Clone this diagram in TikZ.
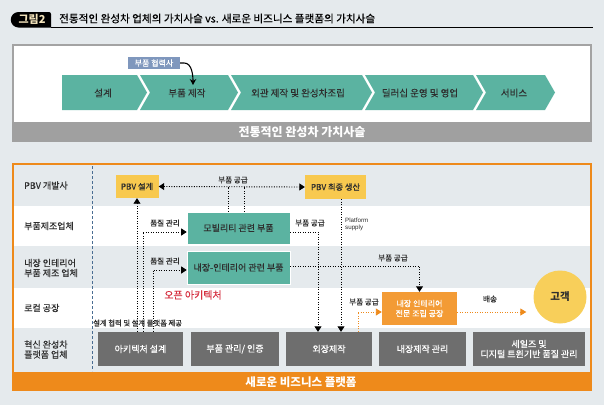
\documentclass[tikz,border=0pt]{standalone}
\usepackage{fontspec}
\setmainfont{Noto Sans CJK KR}
\newfontfamily\med{Noto Sans CJK KR}[FakeBold=0.35]
\newfontfamily\latinsans{Liberation Sans}
\usetikzlibrary{arrows.meta,calc}
\definecolor{bgc}{HTML}{E5EAED}
\definecolor{teal}{HTML}{5BB3A1}
\definecolor{boxgray}{HTML}{A3A3A3}
\definecolor{bandgray}{HTML}{A0A0A0}
\definecolor{bluebox}{HTML}{7F97BD}
\definecolor{orng}{HTML}{EE8A1B}
\definecolor{obox}{HTML}{F39B35}
\definecolor{ylw}{HTML}{F8C94F}
\definecolor{dgray}{HTML}{6E6E6E}
\definecolor{redt}{HTML}{D63040}
\definecolor{dashblue}{HTML}{4A6D92}
\definecolor{custc}{HTML}{F8CF5A}
\definecolor{txt}{HTML}{2E2E2E}
\definecolor{gold}{HTML}{F3E4BC}
\newcommand{\fsz}[1]{\fontsize{#1pt}{#1pt}\selectfont}
\begin{document}
\begin{tikzpicture}[x=1pt,y=-1pt,
  rowlab/.style={anchor=west,inner sep=0,text=txt,font=\med\fsz{9},align=left},
  smlab/.style={inner sep=0,text=txt,font=\med\fsz{7.6}},
  chevtxt/.style={inner sep=0,text=txt,font=\med\fsz{9.5}},
  ybox/.style={fill=ylw,inner sep=0,text=txt,font=\med\fsz{8.2}},
  tbox/.style={fill=teal,draw=white,line width=0.6pt,inner sep=0,text=txt,font=\med\fsz{9}},
  orbox/.style={fill=obox,inner sep=0,text=white,font=\med\fsz{8},align=center},
  gbox/.style={fill=dgray,inner sep=0,text=white,font=\med\fsz{9},align=center,minimum height=34},
  dots/.style={line width=0.9pt,dash pattern=on 0.9pt off 1.6pt},
  odots/.style={dots,draw=orng},
  tri/.style={-{Triangle[width=7pt,length=5.5pt]}},
  otri/.style={-{Triangle[width=7pt,length=6pt,fill=orng,color=orng]}},
  bitri/.style={{Triangle[width=7pt,length=5.5pt]}-{Triangle[width=7pt,length=5.5pt]}}
]
\useasboundingbox (0,0) rectangle (604,405);
\fill[bgc] (0,0) rectangle (604,405);

% ---------- title ----------
\fill[black] (18.5,12) -- (49,12) to[out=0,in=90] (51,14) -- (51,27.5) -- (18.5,27.5) arc[start angle=90,end angle=270,radius=7.75] -- cycle;
\node[inner sep=0,text=gold,font=\bfseries\fsz{11}] (tab) at (32,19.5) {그림2};
\draw[black,line width=0.8pt] (51,27.6) -- (593,27.6);
\node[anchor=west,inner sep=0,text=black,font=\med\fsz{10.6}] (title) at (59,18.5) {전통적인 완성차 업체의 가치사슬 vs. 새로운 비즈니스 플랫폼의 가치사슬};

% ---------- top box ----------
\fill[white] (12,44) rectangle (592,122);
\draw[boxgray,line width=2pt] (13,45) rectangle (591,141);
\fill[bandgray] (12,122) rectangle (592,142);
\node[inner sep=0,text=white,font=\bfseries\fsz{12}] (oldband) at (302,132) {전통적인 완성차 가치사슬};

\fill[teal] (62,75) -- (137,75) -- (147,92.5) -- (137,110) -- (62,110) -- cycle;
\fill[teal] (140,75) -- (228,75) -- (238,92.5) -- (228,110) -- (140,110) -- (150,92.5) -- cycle;
\fill[teal] (231,75) -- (362,75) -- (372,92.5) -- (362,110) -- (231,110) -- (241,92.5) -- cycle;
\fill[teal] (365,75) -- (473,75) -- (483,92.5) -- (473,110) -- (365,110) -- (375,92.5) -- cycle;
\fill[teal] (476,75) -- (545,75) -- (555,92.5) -- (545,110) -- (476,110) -- (486,92.5) -- cycle;
\node[chevtxt] (c1) at (103,93) {설계};
\node[chevtxt] (c2) at (187,93) {부품 제작};
\node[chevtxt] (c3) at (298,93) {외관 제작 및 완성차조립};
\node[chevtxt] (c4) at (420,93) {딜러십 운영 및 영업};
\node[chevtxt] (c5) at (514,93) {서비스};

\node[fill=bluebox,inner sep=0,minimum width=52,minimum height=12.5,text=white,font=\med\fsz{8}] (sup) at (154,63) {부품 협력사};
\coordinate (c2in) at (193,85);
\draw[line width=1.1pt,-{Stealth[length=6pt,width=6.5pt]}] (sup.east) -- ++(4,0) .. controls +(8,0) and +(0,-9) .. (c2in);

% ---------- lower section ----------
\fill[white] (14,206) rectangle (590,246);
\fill[white] (14,288) rectangle (590,328);
\fill[orng] (12,372) rectangle (592,391);
\draw[orng,line width=2.4pt] (13.2,164.2) rectangle (590.8,390);
\node[inner sep=0,text=white,font=\bfseries\fsz{11.5}] (newband) at (301,382) {새로운 비즈니스 플랫폼};
\draw[dashblue,line width=0.7pt,dash pattern=on 3pt off 2pt] (92,166) -- (92,371);

\node[rowlab] (r1) at (24,185.5) {PBV 개발사};
\node[rowlab] (r2) at (24,226) {부품제조업체};
\node[rowlab] (r3) at (24,268) {내장 인테리어\\[1pt]부품 제조 업체};
\node[rowlab] (r4) at (24,308) {로컬 공장};
\node[rowlab] (r5) at (24,349.5) {혁신 완성차\\[1pt]플랫폼 업체};

\node[ybox,minimum width=43,minimum height=23] (pbvd) at (137,186.5) {PBV 설계};
\node[ybox,minimum width=61,minimum height=24] (pbvp) at (335.5,187) {PBV 최종 생산};
\node[tbox,minimum width=103,minimum height=32] (mob) at (238.5,228) {모빌리티 관련 부품};
\node[tbox,minimum width=103,minimum height=33] (intr) at (238.5,267.5) {내장-인테리어 관련 부품};
\node[orbox,minimum width=75,minimum height=33] (asm) at (419.5,308.5) {내장 인테리어\\[2pt]전문 조립 공장};
\node[circle,fill=custc,minimum size=53,inner sep=0,text=txt,font=\bfseries\fsz{10.5}] (cust) at (560,297) {고객};

\node[gbox,minimum width=85] (b1) at (140.5,349) {아키텍처 설계};
\node[gbox,minimum width=88] (b2) at (235,349) {부품 관리/ 인증};
\node[gbox,minimum width=86] (b3) at (329,349) {외장제작};
\node[gbox,minimum width=87] (b4) at (422.5,349) {내장제작 관리};
\node[gbox,minimum width=112] (b5) at (529,349) {세일즈 및\\[1pt]디지털 트윈기반 품질 관리};

% connectors
\draw[dots,bitri] (pbvd.east) -- (pbvp.west);
\draw[dots] ($(mob.north)+(-10.5,0)$) -- ($(mob.north |- pbvd.east)+(-10.5,0)$);
\draw[dots] ($(mob.north)+(5.5,0)$) -- ($(mob.north |- pbvd.east)+(5.5,0)$);
\draw[dots,tri] (b1.north -| pbvd.south) -- (pbvd.south);
\draw[dots,tri] ($(b1.north)+(2.5,0)$) |- ($(mob.west)+(0,4)$);
\draw[dots,tri] ($(b1.north)+(12.5,0)$) |- ($(intr.west)+(0,2.5)$);
\draw[dots,tri] ($(mob.east)+(0,4)$) -| ($(b3.north)+(-11,0)$);
\draw[dots,tri] ($(pbvp.south)+(5.5,0)$) -- ($(b3.north)+(12,0)$);
\draw[dots,tri] ($(intr.east)+(0,-1.5)$) -| (asm.north);
\draw[odots,otri] ($(b3.north)+(29,0)$) |- ($(asm.west)+(0,3.5)$);
\coordinate (dl) at ($(asm.east)+(0,3.5)$);
\draw[odots,otri,shorten >=7pt] (dl) -- (dl -| cust.west);

% labels
\node[smlab] (l1) at (233,180) {부품 공급};
\node[smlab] (l2) at (165,223) {품질 관리};
\node[smlab] (l3) at (165,261) {품질 관리};
\node[smlab] (l4) at (310,223) {부품 공급};
\node[anchor=north west,inner sep=0,text=txt,align=left,font=\latinsans\fontsize{6.2pt}{7.6pt}\selectfont] (l5) at (345,217.5) {Platform\\supply};
\node[smlab] (l6) at (393,258) {부품 공급};
\node[smlab] (l7) at (364,302) {부품 공급};
\node[smlab] (l8) at (490,299) {배송};
\node[inner sep=0,text=redt,font=\med\fsz{10}] (open) at (193,295) {오픈 아키텍처};
\node[anchor=west,inner sep=0,text=txt,font=\med\fsz{7.3}] (l9) at (93,323) {설계 협력 및 설계 플랫폼 제공};
\end{tikzpicture}
\end{document}
